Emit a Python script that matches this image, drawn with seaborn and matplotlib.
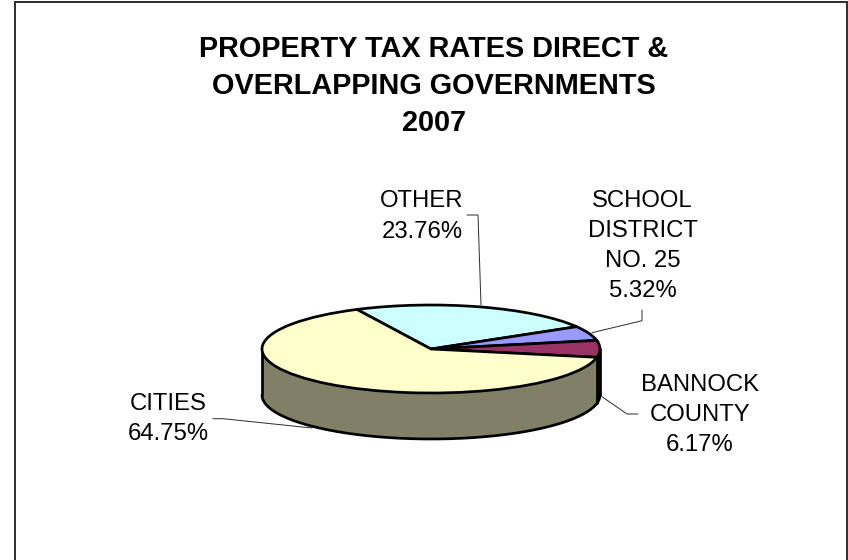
import numpy as np
import matplotlib
matplotlib.use("Agg")
import matplotlib.pyplot as plt
import seaborn as sns

sns.set_theme(style="white")
plt.rcParams["font.family"] = ["Liberation Sans", "DejaVu Sans"]

TITLE = "PROPERTY TAX RATES DIRECT &\nOVERLAPPING GOVERNMENTS\n2007"
categories = ["CITIES", "OTHER", "SCHOOL\nDISTRICT\nNO. 25", "BANNOCK\nCOUNTY"]
shares = [64.75, 23.76, 5.32, 6.17]
top_colors = ["#FFFFCC", "#CCFFFF", "#9999FF", "#993366"]
wall_colors = ["#808066", "#668080", "#4D4D80", "#4D1A33"]

W, H = 848, 560
CX, CY, RX, RY, DEPTH = 431, 349, 169, 44, 46
LINE_PX = 2.7
START = 116.0  # clockwise start of the OTHER slice, in the pie's own plane


def px(v):
    return v * 0.72


fig = plt.figure(figsize=(W / 100, H / 100), dpi=100, facecolor="white")

# Full-figure axes: one data unit equals the pie radius on each axis,
# which flattens the circle into the tilted ellipse.
ax = fig.add_axes([0, 0, 1, 1])
ax.set_xlim(-CX / RX, (W - CX) / RX)
ax.set_ylim(-(H - CY) / RY, CY / RY)
ax.axis("off")

# Slice boundaries, clockwise from the top-left edge
order = [1, 2, 3, 0]
angle = START
spans = {}
for i in order:
    sweep = shares[i] * 3.6
    spans[i] = (angle - sweep, angle)
    angle -= sweep

# Visible side wall: only the front half of the ellipse
depth = DEPTH / RY
for i in order:
    lo, hi = spans[i]
    lo, hi = max(lo, -180), min(hi, 0)
    if lo >= hi:
        continue
    t = np.radians(np.linspace(lo, hi, 200))
    x, y = np.cos(t), np.sin(t)
    ax.fill_between(x, y - depth, y, color=wall_colors[i], lw=0, zorder=1)

t = np.radians(np.linspace(-180, 0, 400))
ax.plot(np.cos(t), np.sin(t) - depth, color="black", lw=px(LINE_PX), zorder=2,
        solid_capstyle="round")
for xe in (-1, 1):
    ax.plot([xe, xe], [0, -depth], color="black", lw=px(LINE_PX), zorder=2)
# Edge between the BANNOCK and CITIES wall segments
t_edge = np.radians(spans[3][0])
ax.plot([np.cos(t_edge)] * 2, [np.sin(t_edge), np.sin(t_edge) - depth],
        color="black", lw=px(LINE_PX), zorder=2)

# Top face, drawn as an ordinary pie
ordered_vals = [shares[i] for i in order]
ordered_cols = [top_colors[i] for i in order]
ax.pie(ordered_vals, colors=ordered_cols, startangle=START, counterclock=False,
       radius=1, center=(0, 0), frame=True,
       wedgeprops=dict(edgecolor="black", linewidth=px(LINE_PX), zorder=3))
ax.set_aspect("auto")
ax.set_xlim(-CX / RX, (W - CX) / RX)
ax.set_ylim(-(H - CY) / RY, CY / RY)
ax.axis("off")

# Overlay in pixel coordinates for the frame, the text and the leader lines
ov = fig.add_axes([0, 0, 1, 1], facecolor="none")
ov.set_xlim(0, W)
ov.set_ylim(H, 0)
ov.axis("off")

ov.plot([15, 15, 847, 847], [H + 4, 2, 2, H + 4], color="#303030", lw=px(2),
        solid_joinstyle="miter", clip_on=False)

ov.text(434, 86, TITLE, ha="center", va="center", fontsize=20.8, fontweight="bold",
        color="black", linespacing=1.41)

LABEL_SIZE = 17.2
labels = [
    (168, 419, f"{categories[0]}\n{shares[0]:.2f}%"),
    (422, 216.5, f"{categories[1]}\n{shares[1]:.2f}%"),
    (642.5, 246, f"{categories[2]}\n{shares[2]:.2f}%"),
    (700, 415, f"{categories[3]}\n{shares[3]:.2f}%"),
]
for x, y, s in labels:
    ov.text(x, y, s, ha="center", va="center", fontsize=LABEL_SIZE, color="black",
            linespacing=1.49)

leaders = [
    ([213, 223, 312], [418.7, 418.7, 428]),
    ([467, 478, 481], [215, 215, 305]),
    ([642, 642, 592], [310, 320.7, 332.7]),
    ([638, 627, 602], [414, 414, 396.7]),
]
for xs, ys in leaders:
    ov.plot(xs, ys, color="#303030", lw=px(1), zorder=0)

fig.savefig("out.png", dpi=100, facecolor="white")
